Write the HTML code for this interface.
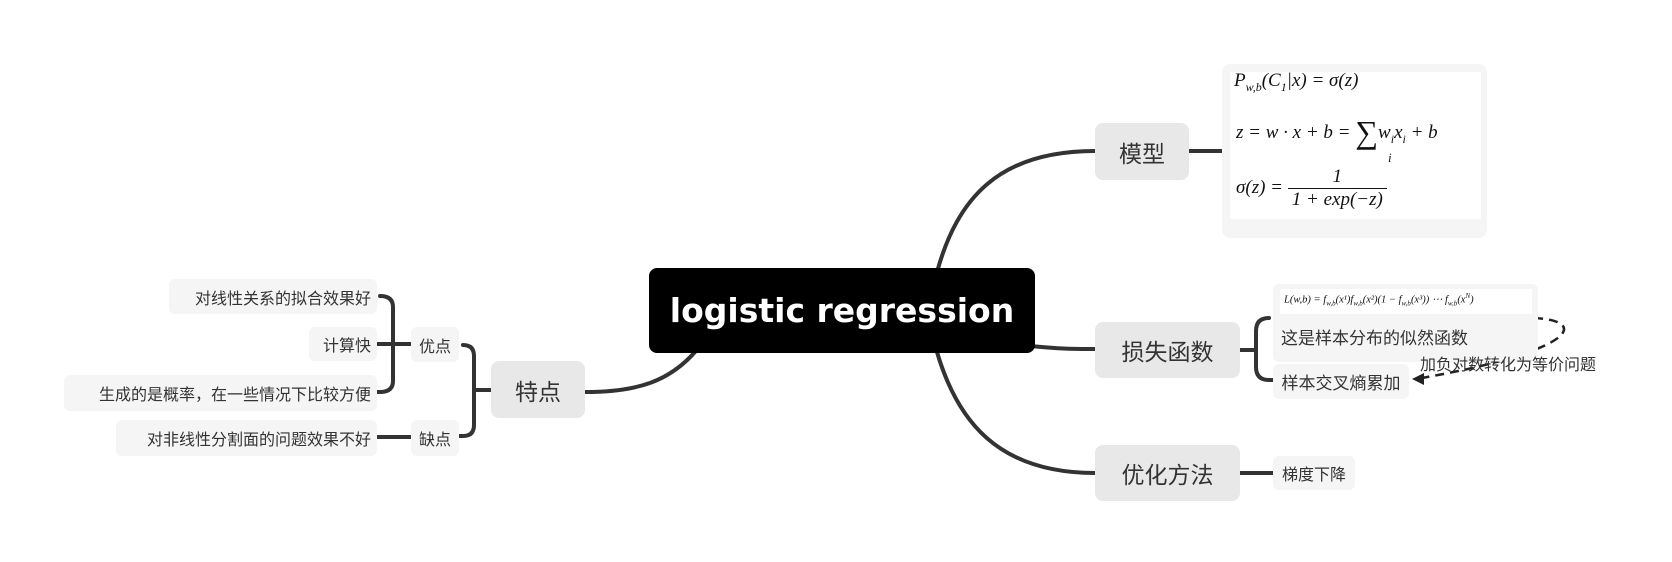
<!DOCTYPE html>
<html><head><meta charset="utf-8"><style>
body{margin:0;width:1672px;height:562px;background:#fff;position:relative;overflow:hidden;font-family:"Liberation Sans","Noto Sans CJK SC",sans-serif;}
.n{position:absolute;display:flex;align-items:center;justify-content:center;border-radius:8px;color:#333;box-sizing:border-box;white-space:nowrap}
.t{background:#e8e8e8;font-size:23px;}
.l{background:#f5f5f5;font-size:16px;border-radius:6px;}
.m{font-family:"Liberation Serif","DejaVu Serif",serif;font-style:italic;font-size:19px;color:#111;position:absolute;white-space:nowrap}
.fr{display:inline-block;vertical-align:middle;text-align:center}
.fr span{display:block;padding:0 4px}
</style></head><body>
<svg width="1672" height="562" style="position:absolute;left:0;top:0">
<g fill="none" stroke="#333" stroke-width="4" stroke-linecap="round">
<path d="M937 272 C957 200 997 151 1095 151"/>
<path d="M1030 346 C1060 349 1075 349 1095 349"/>
<path d="M937 352 C957 420 997 473 1095 473"/>
<path d="M695 352 C670 380 640 392 585 392"/>
<path d="M1189 151 L1222 151"/>
<path d="M1240 350 L1256 350 M1269 318 Q1256 318 1256 331 L1256 367 Q1256 380 1269 380 L1273 380"/>
<path d="M1240 473 L1273 473"/>
<path d="M491 390 L474 390 M463 345 Q474 345 474 356 L474 425 Q474 436 463 436 L459 436"/>
<path d="M411 344 L377 344 M380 296 Q393 296 393 307 L393 381 Q393 392 380 392 L377 392"/>
<path d="M411 437 L377 437"/>
</g>
<path d="M1534 318 C1574 320 1574 335 1534 350 C1494 365 1454 372 1422 378" fill="none" stroke="#222" stroke-width="2.5" stroke-dasharray="9,6"/>
<polygon points="1412,379 1424,373 1424,385" fill="#222"/>
</svg>
<div class="n" style="left:649px;top:268px;width:386px;height:85px;background:#000;color:#fff;font-size:33px;font-weight:bold;font-family:'DejaVu Sans','Liberation Sans',sans-serif;">logistic regression</div>
<div class="n t" style="left:1095px;top:123px;width:94px;height:57px;">模型</div>
<div style="position:absolute;left:1222px;top:64px;width:265px;height:174px;background:#f5f5f5;border-radius:8px"></div>
<div style="position:absolute;left:1230px;top:72px;width:251px;height:147px;background:#fff"></div>
<div class="m" style="left:1234px;top:70px">P<sub style="font-size:12px">w,b</sub>(C<sub style="font-size:12px">1</sub>|x) = σ(z)</div>
<div class="m" style="left:1236px;top:114px">z = w · x + b = <span style="font-style:normal;font-size:32px;vertical-align:-5px">∑</span>w<sub style="font-size:12px">i</sub>x<sub style="font-size:12px">i</sub> + b</div>
<div class="m" style="left:1388px;top:150px;font-size:13px">i</div>
<div class="m" style="left:1236px;top:166px">σ(z) = <span class="fr"><span style="border-bottom:1.5px solid #111">1</span><span>1 + exp(−z)</span></span></div>
<div class="n t" style="left:1095px;top:322px;width:145px;height:56px;">损失函数</div>
<div class="n l" style="left:1273px;top:284px;width:265px;height:78px;"></div>
<div style="position:absolute;left:1280px;top:289px;width:252px;height:25px;background:#fff;"></div>
<div class="m" style="left:1284px;top:292px;font-size:10.5px">L(w,b) = f<sub style="font-size:7px">w,b</sub>(x¹)f<sub style="font-size:7px">w,b</sub>(x²)(1 − f<sub style="font-size:7px">w,b</sub>(x³)) ⋯ f<sub style="font-size:7px">w,b</sub>(x<sup style="font-size:7px">N</sup>)</div>
<div style="position:absolute;left:1281px;top:324px;font-size:17px;color:#333">这是样本分布的似然函数</div>
<div class="n l" style="left:1273px;top:364px;width:136px;height:35px;font-size:17px">样本交叉熵累加</div>
<div style="position:absolute;left:1420px;top:351px;font-size:16px;color:#333">加负对数转化为等价问题</div>
<div class="n t" style="left:1095px;top:445px;width:145px;height:56px;">优化方法</div>
<div class="n l" style="left:1273px;top:456px;width:82px;height:34px;">梯度下降</div>
<div class="n t" style="left:491px;top:361px;width:94px;height:57px;">特点</div>
<div class="n l" style="left:411px;top:327px;width:48px;height:35px;">优点</div>
<div class="n l" style="left:411px;top:420px;width:48px;height:36px;">缺点</div>
<div class="n l" style="left:169px;top:279px;width:208px;height:35px;justify-content:flex-end;padding-right:6px">对线性关系的拟合效果好</div>
<div class="n l" style="left:309px;top:327px;width:68px;height:34px;justify-content:flex-end;padding-right:6px">计算快</div>
<div class="n l" style="left:64px;top:375px;width:313px;height:36px;justify-content:flex-end;padding-right:6px">生成的是概率，在一些情况下比较方便</div>
<div class="n l" style="left:116px;top:420px;width:261px;height:36px;justify-content:flex-end;padding-right:6px">对非线性分割面的问题效果不好</div>
</body></html>
